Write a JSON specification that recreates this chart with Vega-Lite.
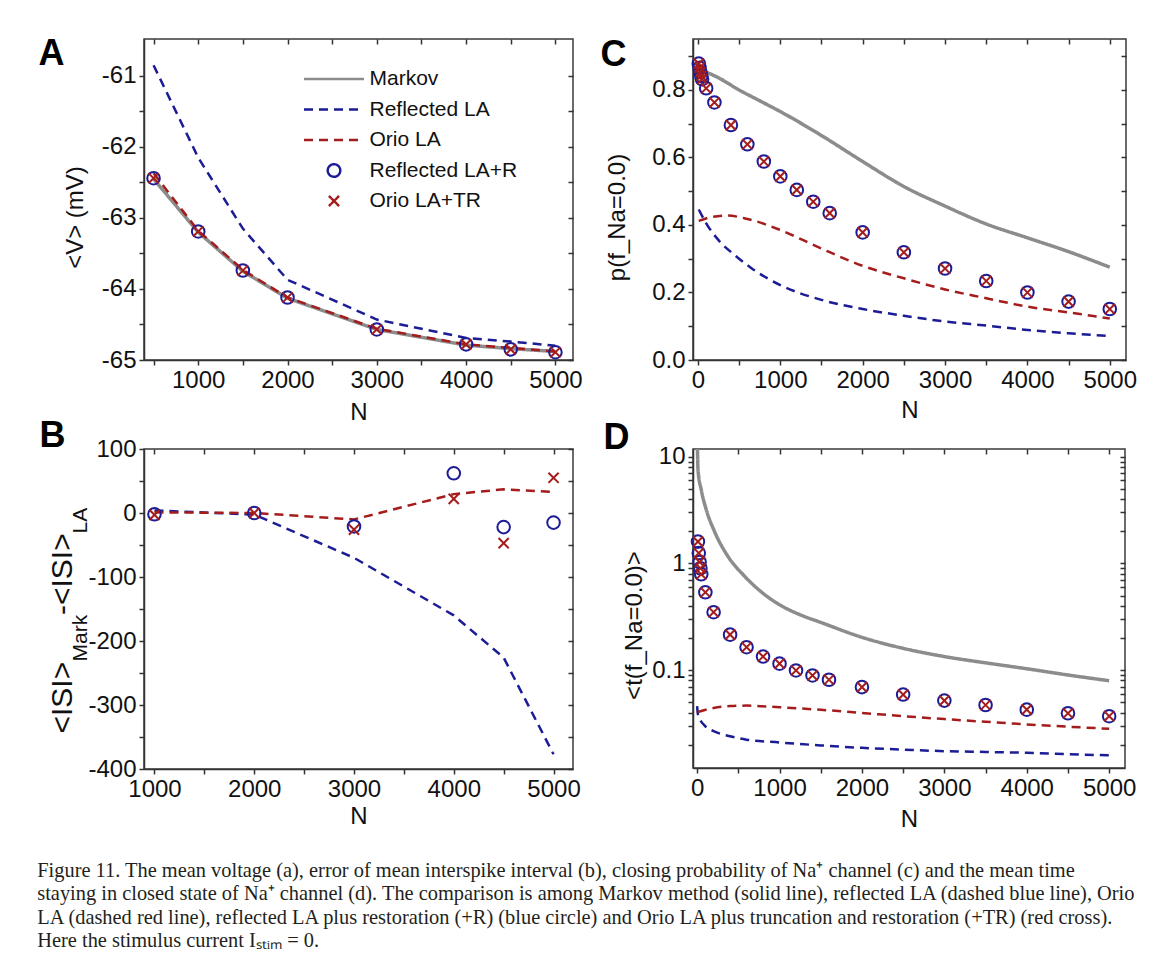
{
  "$schema": "https://vega.github.io/schema/vega-lite/v6.json",
  "padding": {"left": 37, "top": 34, "right": 20, "bottom": 10},
  "background": "white",
  "title": {
    "text": [
      "Figure 11. The mean voltage (a), error of mean interspike interval (b), closing probability of Na⁺ channel (c) and the mean time",
      "staying in closed state of Na⁺ channel (d). The comparison is among Markov method (solid line), reflected LA (dashed blue line), Orio",
      "LA (dashed red line), reflected LA plus restoration (+R) (blue circle) and Orio LA plus truncation and restoration (+TR) (red cross).",
      "Here the stimulus current Iₛₜᵢₘ = 0."
    ],
    "orient": "bottom", "anchor": "start", "frame": "bounds",
    "font": "Liberation Serif", "fontSize": 20.4, "fontWeight": "normal",
    "lineHeight": 23.5, "offset": 29, "color": "#231f20", "baseline": "top"
  },
  "columns": 2,
  "spacing": {"row": 89, "column": 120},
  "bounds": "flush",
  "align": "each",
  "resolve": {
    "scale": {"color": "independent", "shape": "independent", "strokeDash": "independent"},
    "legend": {"color": "independent", "shape": "independent", "strokeDash": "independent"}
  },
  "datasets": {
    "a_lines": [
      {"N": 500, "v": -62.45, "series": "Markov"}, {"N": 1000, "v": -63.2, "series": "Markov"}, {"N": 1500, "v": -63.75, "series": "Markov"}, {"N": 2000, "v": -64.13, "series": "Markov"}, {"N": 3000, "v": -64.57, "series": "Markov"}, {"N": 4000, "v": -64.79, "series": "Markov"}, {"N": 4500, "v": -64.84, "series": "Markov"}, {"N": 5000, "v": -64.88, "series": "Markov"},
      {"N": 500, "v": -60.85, "series": "Reflected LA"}, {"N": 1000, "v": -62.15, "series": "Reflected LA"}, {"N": 1500, "v": -63.15, "series": "Reflected LA"}, {"N": 2000, "v": -63.87, "series": "Reflected LA"}, {"N": 3000, "v": -64.43, "series": "Reflected LA"}, {"N": 4000, "v": -64.69, "series": "Reflected LA"}, {"N": 4500, "v": -64.74, "series": "Reflected LA"}, {"N": 5000, "v": -64.8, "series": "Reflected LA"},
      {"N": 500, "v": -62.37, "series": "Orio LA"}, {"N": 1000, "v": -63.18, "series": "Orio LA"}, {"N": 1500, "v": -63.73, "series": "Orio LA"}, {"N": 2000, "v": -64.12, "series": "Orio LA"}, {"N": 3000, "v": -64.56, "series": "Orio LA"}, {"N": 4000, "v": -64.78, "series": "Orio LA"}, {"N": 4500, "v": -64.83, "series": "Orio LA"}, {"N": 5000, "v": -64.88, "series": "Orio LA"}
    ],
    "a_pts": [
      {"N": 500, "v": -62.44, "series": "Reflected LA+R"}, {"N": 1000, "v": -63.19, "series": "Reflected LA+R"}, {"N": 1500, "v": -63.74, "series": "Reflected LA+R"}, {"N": 2000, "v": -64.12, "series": "Reflected LA+R"}, {"N": 3000, "v": -64.57, "series": "Reflected LA+R"}, {"N": 4000, "v": -64.78, "series": "Reflected LA+R"}, {"N": 4500, "v": -64.85, "series": "Reflected LA+R"}, {"N": 5000, "v": -64.89, "series": "Reflected LA+R"},
      {"N": 500, "v": -62.44, "series": "Orio LA+TR"}, {"N": 1000, "v": -63.19, "series": "Orio LA+TR"}, {"N": 1500, "v": -63.74, "series": "Orio LA+TR"}, {"N": 2000, "v": -64.12, "series": "Orio LA+TR"}, {"N": 3000, "v": -64.57, "series": "Orio LA+TR"}, {"N": 4000, "v": -64.78, "series": "Orio LA+TR"}, {"N": 4500, "v": -64.85, "series": "Orio LA+TR"}, {"N": 5000, "v": -64.89, "series": "Orio LA+TR"}
    ],
    "b_lines": [
      {"N": 1000, "v": 4, "series": "Reflected LA"}, {"N": 2000, "v": -2.5, "series": "Reflected LA"}, {"N": 3000, "v": -70, "series": "Reflected LA"}, {"N": 4000, "v": -160, "series": "Reflected LA"}, {"N": 4500, "v": -226, "series": "Reflected LA"}, {"N": 5000, "v": -377, "series": "Reflected LA"},
      {"N": 1000, "v": 1, "series": "Orio LA"}, {"N": 2000, "v": 0, "series": "Orio LA"}, {"N": 3000, "v": -10, "series": "Orio LA"}, {"N": 4000, "v": 29.5, "series": "Orio LA"}, {"N": 4500, "v": 37, "series": "Orio LA"}, {"N": 5000, "v": 33, "series": "Orio LA"}
    ],
    "b_pts": [
      {"N": 1000, "v": -2, "series": "Reflected LA+R"}, {"N": 2000, "v": 0, "series": "Reflected LA+R"}, {"N": 3000, "v": -21, "series": "Reflected LA+R"}, {"N": 4000, "v": 62, "series": "Reflected LA+R"}, {"N": 4500, "v": -22, "series": "Reflected LA+R"}, {"N": 5000, "v": -15, "series": "Reflected LA+R"},
      {"N": 1000, "v": -3, "series": "Orio LA+TR"}, {"N": 2000, "v": 0, "series": "Orio LA+TR"}, {"N": 3000, "v": -26, "series": "Orio LA+TR"}, {"N": 4000, "v": 22, "series": "Orio LA+TR"}, {"N": 4500, "v": -47, "series": "Orio LA+TR"}, {"N": 5000, "v": 55, "series": "Orio LA+TR"}
    ],
    "c_lines": [
      {"N": 10, "v": 0.862, "series": "Markov"}, {"N": 250, "v": 0.836, "series": "Markov"}, {"N": 500, "v": 0.8, "series": "Markov"}, {"N": 750, "v": 0.768, "series": "Markov"}, {"N": 1000, "v": 0.736, "series": "Markov"}, {"N": 1500, "v": 0.665, "series": "Markov"}, {"N": 2000, "v": 0.588, "series": "Markov"}, {"N": 2500, "v": 0.514, "series": "Markov"}, {"N": 3000, "v": 0.456, "series": "Markov"}, {"N": 3500, "v": 0.403, "series": "Markov"}, {"N": 4000, "v": 0.362, "series": "Markov"}, {"N": 4500, "v": 0.321, "series": "Markov"}, {"N": 5000, "v": 0.275, "series": "Markov"},
      {"N": 10, "v": 0.446, "series": "Reflected LA"}, {"N": 100, "v": 0.405, "series": "Reflected LA"}, {"N": 250, "v": 0.355, "series": "Reflected LA"}, {"N": 450, "v": 0.31, "series": "Reflected LA"}, {"N": 650, "v": 0.272, "series": "Reflected LA"}, {"N": 1000, "v": 0.222, "series": "Reflected LA"}, {"N": 1500, "v": 0.178, "series": "Reflected LA"}, {"N": 2000, "v": 0.151, "series": "Reflected LA"}, {"N": 2500, "v": 0.131, "series": "Reflected LA"}, {"N": 3000, "v": 0.114, "series": "Reflected LA"}, {"N": 3500, "v": 0.102, "series": "Reflected LA"}, {"N": 4000, "v": 0.089, "series": "Reflected LA"}, {"N": 4500, "v": 0.079, "series": "Reflected LA"}, {"N": 5000, "v": 0.071, "series": "Reflected LA"},
      {"N": 10, "v": 0.412, "series": "Orio LA"}, {"N": 150, "v": 0.423, "series": "Orio LA"}, {"N": 350, "v": 0.428, "series": "Orio LA"}, {"N": 600, "v": 0.418, "series": "Orio LA"}, {"N": 1000, "v": 0.385, "series": "Orio LA"}, {"N": 1500, "v": 0.33, "series": "Orio LA"}, {"N": 2000, "v": 0.279, "series": "Orio LA"}, {"N": 2500, "v": 0.242, "series": "Orio LA"}, {"N": 3000, "v": 0.209, "series": "Orio LA"}, {"N": 3500, "v": 0.183, "series": "Orio LA"}, {"N": 4000, "v": 0.158, "series": "Orio LA"}, {"N": 4500, "v": 0.141, "series": "Orio LA"}, {"N": 5000, "v": 0.123, "series": "Orio LA"}
    ],
    "c_pts": [
      {"N": 10, "v": 0.878, "series": "Reflected LA+R"}, {"N": 20, "v": 0.866, "series": "Reflected LA+R"}, {"N": 30, "v": 0.853, "series": "Reflected LA+R"}, {"N": 40, "v": 0.842, "series": "Reflected LA+R"}, {"N": 50, "v": 0.832, "series": "Reflected LA+R"}, {"N": 100, "v": 0.805, "series": "Reflected LA+R"}, {"N": 200, "v": 0.763, "series": "Reflected LA+R"}, {"N": 400, "v": 0.696, "series": "Reflected LA+R"}, {"N": 600, "v": 0.639, "series": "Reflected LA+R"}, {"N": 800, "v": 0.588, "series": "Reflected LA+R"}, {"N": 1000, "v": 0.544, "series": "Reflected LA+R"}, {"N": 1200, "v": 0.504, "series": "Reflected LA+R"}, {"N": 1400, "v": 0.469, "series": "Reflected LA+R"}, {"N": 1600, "v": 0.435, "series": "Reflected LA+R"}, {"N": 2000, "v": 0.378, "series": "Reflected LA+R"}, {"N": 2500, "v": 0.319, "series": "Reflected LA+R"}, {"N": 3000, "v": 0.271, "series": "Reflected LA+R"}, {"N": 3500, "v": 0.234, "series": "Reflected LA+R"}, {"N": 4000, "v": 0.2, "series": "Reflected LA+R"}, {"N": 4500, "v": 0.173, "series": "Reflected LA+R"}, {"N": 5000, "v": 0.151, "series": "Reflected LA+R"},
      {"N": 10, "v": 0.878, "series": "Orio LA+TR"}, {"N": 20, "v": 0.866, "series": "Orio LA+TR"}, {"N": 30, "v": 0.853, "series": "Orio LA+TR"}, {"N": 40, "v": 0.842, "series": "Orio LA+TR"}, {"N": 50, "v": 0.832, "series": "Orio LA+TR"}, {"N": 100, "v": 0.805, "series": "Orio LA+TR"}, {"N": 200, "v": 0.763, "series": "Orio LA+TR"}, {"N": 400, "v": 0.696, "series": "Orio LA+TR"}, {"N": 600, "v": 0.639, "series": "Orio LA+TR"}, {"N": 800, "v": 0.588, "series": "Orio LA+TR"}, {"N": 1000, "v": 0.544, "series": "Orio LA+TR"}, {"N": 1200, "v": 0.504, "series": "Orio LA+TR"}, {"N": 1400, "v": 0.469, "series": "Orio LA+TR"}, {"N": 1600, "v": 0.435, "series": "Orio LA+TR"}, {"N": 2000, "v": 0.378, "series": "Orio LA+TR"}, {"N": 2500, "v": 0.319, "series": "Orio LA+TR"}, {"N": 3000, "v": 0.271, "series": "Orio LA+TR"}, {"N": 3500, "v": 0.234, "series": "Orio LA+TR"}, {"N": 4000, "v": 0.2, "series": "Orio LA+TR"}, {"N": 4500, "v": 0.173, "series": "Orio LA+TR"}, {"N": 5000, "v": 0.151, "series": "Orio LA+TR"}
    ],
    "d_lines": [
      {"N": 3, "v": 13, "series": "Markov"}, {"N": 11, "v": 7.5, "series": "Markov"}, {"N": 50, "v": 4.9, "series": "Markov"}, {"N": 110, "v": 3.2, "series": "Markov"}, {"N": 210, "v": 2.0, "series": "Markov"}, {"N": 375, "v": 1.16, "series": "Markov"}, {"N": 575, "v": 0.76, "series": "Markov"}, {"N": 820, "v": 0.51, "series": "Markov"}, {"N": 1000, "v": 0.41, "series": "Markov"}, {"N": 1250, "v": 0.33, "series": "Markov"}, {"N": 1500, "v": 0.28, "series": "Markov"}, {"N": 2000, "v": 0.203, "series": "Markov"}, {"N": 2500, "v": 0.16, "series": "Markov"}, {"N": 3000, "v": 0.134, "series": "Markov"}, {"N": 3500, "v": 0.117, "series": "Markov"}, {"N": 4000, "v": 0.103, "series": "Markov"}, {"N": 4500, "v": 0.09, "series": "Markov"}, {"N": 5000, "v": 0.0795, "series": "Markov"},
      {"N": 0, "v": 0.046, "series": "Reflected LA"}, {"N": 10, "v": 0.0385, "series": "Reflected LA"}, {"N": 100, "v": 0.0297, "series": "Reflected LA"}, {"N": 200, "v": 0.0268, "series": "Reflected LA"}, {"N": 400, "v": 0.024, "series": "Reflected LA"}, {"N": 600, "v": 0.0223, "series": "Reflected LA"}, {"N": 1000, "v": 0.021, "series": "Reflected LA"}, {"N": 1500, "v": 0.0197, "series": "Reflected LA"}, {"N": 2000, "v": 0.0187, "series": "Reflected LA"}, {"N": 2500, "v": 0.018, "series": "Reflected LA"}, {"N": 3000, "v": 0.0174, "series": "Reflected LA"}, {"N": 3500, "v": 0.0171, "series": "Reflected LA"}, {"N": 4000, "v": 0.0168, "series": "Reflected LA"}, {"N": 4500, "v": 0.0163, "series": "Reflected LA"}, {"N": 5000, "v": 0.0159, "series": "Reflected LA"},
      {"N": 10, "v": 0.0405, "series": "Orio LA"}, {"N": 200, "v": 0.0442, "series": "Orio LA"}, {"N": 400, "v": 0.046, "series": "Orio LA"}, {"N": 600, "v": 0.0465, "series": "Orio LA"}, {"N": 1000, "v": 0.0449, "series": "Orio LA"}, {"N": 1500, "v": 0.0425, "series": "Orio LA"}, {"N": 2000, "v": 0.0397, "series": "Orio LA"}, {"N": 2500, "v": 0.037, "series": "Orio LA"}, {"N": 3000, "v": 0.0348, "series": "Orio LA"}, {"N": 3500, "v": 0.0328, "series": "Orio LA"}, {"N": 4000, "v": 0.031, "series": "Orio LA"}, {"N": 4500, "v": 0.0295, "series": "Orio LA"}, {"N": 5000, "v": 0.0282, "series": "Orio LA"}
    ],
    "d_pts": [
      {"N": 10, "v": 1.6, "series": "Reflected LA+R"}, {"N": 20, "v": 1.25, "series": "Reflected LA+R"}, {"N": 30, "v": 1.03, "series": "Reflected LA+R"}, {"N": 40, "v": 0.9, "series": "Reflected LA+R"}, {"N": 50, "v": 0.79, "series": "Reflected LA+R"}, {"N": 100, "v": 0.536, "series": "Reflected LA+R"}, {"N": 200, "v": 0.349, "series": "Reflected LA+R"}, {"N": 400, "v": 0.215, "series": "Reflected LA+R"}, {"N": 600, "v": 0.164, "series": "Reflected LA+R"}, {"N": 800, "v": 0.134, "series": "Reflected LA+R"}, {"N": 1000, "v": 0.115, "series": "Reflected LA+R"}, {"N": 1200, "v": 0.0993, "series": "Reflected LA+R"}, {"N": 1400, "v": 0.0891, "series": "Reflected LA+R"}, {"N": 1600, "v": 0.0812, "series": "Reflected LA+R"}, {"N": 2000, "v": 0.0693, "series": "Reflected LA+R"}, {"N": 2500, "v": 0.059, "series": "Reflected LA+R"}, {"N": 3000, "v": 0.0518, "series": "Reflected LA+R"}, {"N": 3500, "v": 0.0471, "series": "Reflected LA+R"}, {"N": 4000, "v": 0.0426, "series": "Reflected LA+R"}, {"N": 4500, "v": 0.0394, "series": "Reflected LA+R"}, {"N": 5000, "v": 0.037, "series": "Reflected LA+R"},
      {"N": 10, "v": 1.6, "series": "Orio LA+TR"}, {"N": 20, "v": 1.25, "series": "Orio LA+TR"}, {"N": 30, "v": 1.03, "series": "Orio LA+TR"}, {"N": 40, "v": 0.9, "series": "Orio LA+TR"}, {"N": 50, "v": 0.79, "series": "Orio LA+TR"}, {"N": 100, "v": 0.536, "series": "Orio LA+TR"}, {"N": 200, "v": 0.349, "series": "Orio LA+TR"}, {"N": 400, "v": 0.215, "series": "Orio LA+TR"}, {"N": 600, "v": 0.164, "series": "Orio LA+TR"}, {"N": 800, "v": 0.134, "series": "Orio LA+TR"}, {"N": 1000, "v": 0.115, "series": "Orio LA+TR"}, {"N": 1200, "v": 0.0993, "series": "Orio LA+TR"}, {"N": 1400, "v": 0.0891, "series": "Orio LA+TR"}, {"N": 1600, "v": 0.0812, "series": "Orio LA+TR"}, {"N": 2000, "v": 0.0693, "series": "Orio LA+TR"}, {"N": 2500, "v": 0.059, "series": "Orio LA+TR"}, {"N": 3000, "v": 0.0518, "series": "Orio LA+TR"}, {"N": 3500, "v": 0.0471, "series": "Orio LA+TR"}, {"N": 4000, "v": 0.0426, "series": "Orio LA+TR"}, {"N": 4500, "v": 0.0394, "series": "Orio LA+TR"}, {"N": 5000, "v": 0.037, "series": "Orio LA+TR"}
    ]
  },
  "concat": [
    {
      "width": 429, "height": 321,
      "resolve": {"axis": {"x": "independent", "y": "independent"}},
      "layer": [
        {
          "data": {"name": "a_lines"},
          "transform": [{"filter": "datum.series === 'Markov'"}],
          "mark": {"type": "line", "strokeWidth": 3.5, "clip": true},
          "encoding": {
            "x": {"field": "N", "type": "quantitative", "scale": {"domain": [393, 5197], "nice": false, "zero": false},
              "axis": {"orient": "bottom", "values": [500, 1000, 1500, 2000, 2500, 3000, 3500, 4000, 4500, 5000], "labelExpr": "datum.value % 1000 === 0 ? '' + datum.value : ''", "title": "N", "titleY": 59, "titleBaseline": "alphabetic"}},
            "y": {"field": "v", "type": "quantitative", "scale": {"domain": [-65, -60.48], "nice": false, "zero": false},
              "axis": {"orient": "left", "values": [-65, -64.5, -64, -63.5, -63, -62.5, -62, -61.5, -61], "labelExpr": "datum.value % 1 === 0 ? '' + datum.value : ''", "title": "<V> (mV)", "titleAngle": -90, "titleAlign": "center", "titleBaseline": "alphabetic", "titleX": -62, "titleY": 178}},
            "color": {"field": "series", "type": "nominal",
              "scale": {"domain": ["Markov", "Reflected LA", "Orio LA", "Reflected LA+R", "Orio LA+TR"], "range": ["#8c8c8c", "#1c1c96", "#a51c1c", "#1c1c96", "#a51c1c"]},
              "legend": {"title": null, "orient": "none", "legendX": 158.5, "legendY": 25, "clipHeight": 30, "rowPadding": 0.5, "labelFontSize": 21, "labelFont": "Liberation Sans", "labelColor": "#111", "labelOffset": 4, "symbolStrokeWidth": 2.4, "symbolSize": 3600, "padding": 0, "symbolFillColor": "transparent", "labelLimit": 400}},
            "strokeDash": {"field": "series", "type": "nominal",
              "scale": {"domain": ["Markov", "Reflected LA", "Orio LA", "Reflected LA+R", "Orio LA+TR"], "range": [[1, 0], [9, 6], [9, 6], [1, 0], [1, 0]]},
              "legend": {"title": null, "orient": "none", "legendX": 158.5, "legendY": 25, "clipHeight": 30, "rowPadding": 0.5, "labelFontSize": 21, "labelFont": "Liberation Sans", "labelColor": "#111", "labelOffset": 4, "symbolStrokeWidth": 2.4, "symbolSize": 3600, "padding": 0, "symbolFillColor": "transparent", "labelLimit": 400}}
          }
        },
        {
          "data": {"name": "a_lines"},
          "transform": [{"filter": "datum.series !== 'Markov'"}],
          "mark": {"type": "line", "strokeWidth": 2.5, "clip": true},
          "encoding": {
            "x": {"field": "N", "type": "quantitative", "axis": null},
            "y": {"field": "v", "type": "quantitative", "axis": null},
            "color": {"field": "series", "type": "nominal",
              "scale": {"domain": ["Markov", "Reflected LA", "Orio LA", "Reflected LA+R", "Orio LA+TR"], "range": ["#8c8c8c", "#1c1c96", "#a51c1c", "#1c1c96", "#a51c1c"]}},
            "strokeDash": {"field": "series", "type": "nominal",
              "scale": {"domain": ["Markov", "Reflected LA", "Orio LA", "Reflected LA+R", "Orio LA+TR"], "range": [[1, 0], [9, 6], [9, 6], [1, 0], [1, 0]]}}
          }
        },
        {
          "data": {"name": "a_pts"},
          "mark": {"type": "point", "filled": false, "size": 3600, "strokeWidth": 2, "opacity": 1},
          "encoding": {
            "x": {"field": "N", "type": "quantitative",
              "axis": {"orient": "top", "labels": false, "domain": false, "tickSize": -5, "values": [500, 1000, 1500, 2000, 2500, 3000, 3500, 4000, 4500, 5000],
                "title": "A", "titleX": -106, "titleY": 25, "titleAngle": 0, "titleAlign": "left", "titleBaseline": "alphabetic", "titleFontSize": 36, "titleFontWeight": "bold", "titleColor": "#000"}},
            "y": {"field": "v", "type": "quantitative",
              "axis": {"orient": "right", "labels": false, "domain": false, "title": null, "tickSize": -5, "values": [-65, -64.5, -64, -63.5, -63, -62.5, -62, -61.5, -61]}},
            "color": {"field": "series", "type": "nominal",
              "scale": {"domain": ["Markov", "Reflected LA", "Orio LA", "Reflected LA+R", "Orio LA+TR"], "range": ["#8c8c8c", "#1c1c96", "#a51c1c", "#1c1c96", "#a51c1c"]}},
            "shape": {"field": "series", "type": "nominal",
              "scale": {"domain": ["Markov", "Reflected LA", "Orio LA", "Reflected LA+R", "Orio LA+TR"], "range": ["stroke", "stroke", "stroke", "M0.21,0A0.21,0.21,0,1,1,-0.21,0A0.21,0.21,0,1,1,0.21,0Z", "M-0.17,-0.17L0.17,0.17M-0.17,0.17L0.17,-0.17"]},
              "legend": {"title": null, "orient": "none", "legendX": 158.5, "legendY": 25, "clipHeight": 30, "rowPadding": 0.5, "labelFontSize": 21, "labelFont": "Liberation Sans", "labelColor": "#111", "labelOffset": 4, "symbolStrokeWidth": 2.4, "symbolSize": 3600, "padding": 0, "symbolFillColor": "transparent", "labelLimit": 400}}
          }
        }
      ]
    },
    {
      "width": 433, "height": 321,
      "resolve": {"axis": {"x": "independent", "y": "independent"}},
      "layer": [
        {
          "data": {"name": "c_lines"},
          "transform": [{"filter": "datum.series === 'Markov'"}],
          "mark": {"type": "line", "strokeWidth": 3.5, "clip": true, "interpolate": "monotone"},
          "encoding": {
            "x": {"field": "N", "type": "quantitative", "scale": {"domain": [-60, 5197], "nice": false, "zero": false},
              "axis": {"orient": "bottom", "values": [0, 500, 1000, 1500, 2000, 2500, 3000, 3500, 4000, 4500, 5000], "labelExpr": "datum.value % 1000 === 0 ? '' + datum.value : ''", "title": "N", "titleY": 57, "titleBaseline": "alphabetic"}},
            "y": {"field": "v", "type": "quantitative", "scale": {"domain": [0, 0.951], "nice": false, "zero": false},
              "axis": {"orient": "left", "values": [0, 0.1, 0.2, 0.3, 0.4, 0.5, 0.6, 0.7, 0.8, 0.9], "labelExpr": "round(datum.value * 10) % 2 === 0 ? format(datum.value, '.1f') : ''", "title": "p(f_Na=0.0)", "titleAngle": -90, "titleAlign": "center", "titleBaseline": "alphabetic", "titleX": -69, "titleY": 178}},
            "color": {"field": "series", "type": "nominal", "legend": null,
              "scale": {"domain": ["Markov", "Reflected LA", "Orio LA", "Reflected LA+R", "Orio LA+TR"], "range": ["#8c8c8c", "#1c1c96", "#a51c1c", "#1c1c96", "#a51c1c"]}},
            "strokeDash": {"field": "series", "type": "nominal", "legend": null,
              "scale": {"domain": ["Markov", "Reflected LA", "Orio LA", "Reflected LA+R", "Orio LA+TR"], "range": [[1, 0], [9, 6], [9, 6], [1, 0], [1, 0]]}}
          }
        },
        {
          "data": {"name": "c_lines"},
          "transform": [{"filter": "datum.series !== 'Markov'"}],
          "mark": {"type": "line", "strokeWidth": 2.5, "clip": true, "interpolate": "monotone"},
          "encoding": {
            "x": {"field": "N", "type": "quantitative", "axis": null},
            "y": {"field": "v", "type": "quantitative", "axis": null},
            "color": {"field": "series", "type": "nominal", "legend": null},
            "strokeDash": {"field": "series", "type": "nominal", "legend": null}
          }
        },
        {
          "data": {"name": "c_pts"},
          "mark": {"type": "point", "filled": false, "size": 3600, "strokeWidth": 2, "opacity": 1},
          "encoding": {
            "x": {"field": "N", "type": "quantitative",
              "axis": {"orient": "top", "labels": false, "domain": false, "tickSize": -5, "values": [0, 500, 1000, 1500, 2000, 2500, 3000, 3500, 4000, 4500, 5000],
                "title": "C", "titleX": -93, "titleY": 26, "titleAngle": 0, "titleAlign": "left", "titleBaseline": "alphabetic", "titleFontSize": 36, "titleFontWeight": "bold", "titleColor": "#000"}},
            "y": {"field": "v", "type": "quantitative",
              "axis": {"orient": "right", "labels": false, "domain": false, "title": null, "tickSize": -5, "values": [0, 0.1, 0.2, 0.3, 0.4, 0.5, 0.6, 0.7, 0.8, 0.9]}},
            "color": {"field": "series", "type": "nominal", "legend": null},
            "shape": {"field": "series", "type": "nominal", "legend": null,
              "scale": {"domain": ["Markov", "Reflected LA", "Orio LA", "Reflected LA+R", "Orio LA+TR"], "range": ["stroke", "stroke", "stroke", "M0.21,0A0.21,0.21,0,1,1,-0.21,0A0.21,0.21,0,1,1,0.21,0Z", "M-0.17,-0.17L0.17,0.17M-0.17,0.17L0.17,-0.17"]}}
          }
        }
      ]
    },
    {
      "width": 429, "height": 320,
      "resolve": {"axis": {"x": "independent", "y": "independent"}},
      "layer": [
        {
          "data": {"name": "b_lines"},
          "transform": [{"filter": "datum.series === 'Reflected LA'"}],
          "mark": {"type": "line", "strokeWidth": 2.5, "strokeDash": [9, 6], "color": "#1c1c96", "clip": true},
          "encoding": {
            "x": {"field": "N", "type": "quantitative", "scale": {"domain": [895, 5195], "nice": false, "zero": false},
              "axis": {"orient": "bottom", "values": [1000, 1500, 2000, 2500, 3000, 3500, 4000, 4500, 5000], "labelExpr": "datum.value % 1000 === 0 ? '' + datum.value : ''", "title": "N", "titleY": 54, "titleBaseline": "alphabetic"}},
            "y": {"field": "v", "type": "quantitative", "scale": {"domain": [-400, 100], "nice": false, "zero": false},
              "axis": {"orient": "left", "values": [-400, -350, -300, -250, -200, -150, -100, -50, 0, 50, 100], "labelExpr": "datum.value % 100 === 0 ? '' + datum.value : ''", "title": "<ISI>", "titleFontSize": 30, "titleAngle": -90, "titleAlign": "left", "titleBaseline": "alphabetic", "titleX": -73, "titleY": 284}}
          }
        },
        {
          "data": {"name": "b_lines"},
          "transform": [{"filter": "datum.series === 'Orio LA'"}],
          "mark": {"type": "line", "strokeWidth": 2.5, "strokeDash": [9, 6], "color": "#a51c1c", "clip": true},
          "encoding": {
            "x": {"field": "N", "type": "quantitative",
              "axis": {"orient": "top", "labels": false, "domain": false, "tickSize": -5, "values": [1000, 1500, 2000, 2500, 3000, 3500, 4000, 4500, 5000], "title": "Mark", "titleFontSize": 21, "titleAngle": -90, "titleAlign": "left", "titleBaseline": "alphabetic", "titleX": -58, "titleY": 212}},
            "y": {"field": "v", "type": "quantitative",
              "axis": {"orient": "right", "labels": false, "domain": false, "tickSize": -5, "values": [-400, -350, -300, -250, -200, -150, -100, -50, 0, 50, 100], "title": "-<ISI>", "titleFontSize": 30, "titleAngle": -90, "titleAlign": "left", "titleBaseline": "alphabetic", "titleX": -502, "titleY": 165.5}}
          }
        },
        {
          "data": {"name": "b_pts"},
          "mark": {"type": "point", "filled": false, "size": 3600, "strokeWidth": 2, "opacity": 1},
          "encoding": {
            "x": {"field": "N", "type": "quantitative",
              "axis": {"orient": "top", "labels": false, "ticks": false, "domain": false, "title": "LA", "titleFontSize": 21, "titleAngle": -90, "titleAlign": "left", "titleBaseline": "alphabetic", "titleX": -58, "titleY": 84}},
            "y": {"field": "v", "type": "quantitative",
              "axis": {"orient": "right", "labels": false, "ticks": false, "domain": false, "title": "B", "titleX": -534, "titleY": -3, "titleAngle": 0, "titleAlign": "left", "titleBaseline": "alphabetic", "titleFontSize": 36, "titleFontWeight": "bold", "titleColor": "#000"}},
            "color": {"field": "series", "type": "nominal", "legend": null,
              "scale": {"domain": ["Markov", "Reflected LA", "Orio LA", "Reflected LA+R", "Orio LA+TR"], "range": ["#8c8c8c", "#1c1c96", "#a51c1c", "#1c1c96", "#a51c1c"]}},
            "shape": {"field": "series", "type": "nominal", "legend": null,
              "scale": {"domain": ["Markov", "Reflected LA", "Orio LA", "Reflected LA+R", "Orio LA+TR"], "range": ["stroke", "stroke", "stroke", "M0.21,0A0.21,0.21,0,1,1,-0.21,0A0.21,0.21,0,1,1,0.21,0Z", "M-0.17,-0.17L0.17,0.17M-0.17,0.17L0.17,-0.17"]}}
          }
        }
      ]
    },
    {
      "width": 432, "height": 319,
      "resolve": {"axis": {"x": "independent", "y": "independent"}},
      "layer": [
        {
          "data": {"name": "d_lines"},
          "transform": [{"filter": "datum.series === 'Markov'"}],
          "mark": {"type": "line", "strokeWidth": 3.5, "clip": true, "interpolate": "monotone"},
          "encoding": {
            "x": {"field": "N", "type": "quantitative", "scale": {"domain": [-50, 5192], "nice": false, "zero": false},
              "axis": {"orient": "bottom", "values": [0, 500, 1000, 1500, 2000, 2500, 3000, 3500, 4000, 4500, 5000], "labelExpr": "datum.value % 1000 === 0 ? '' + datum.value : ''", "title": "N", "titleY": 58, "titleBaseline": "alphabetic"}},
            "y": {"field": "v", "type": "quantitative", "scale": {"type": "log", "domain": [0.0121, 11.8], "nice": false},
              "axis": {"orient": "left", "values": [0.02, 0.03, 0.04, 0.05, 0.06, 0.07, 0.08, 0.09, 0.1, 0.2, 0.3, 0.4, 0.5, 0.6, 0.7, 0.8, 0.9, 1, 2, 3, 4, 5, 6, 7, 8, 9, 10], "labelExpr": "indexof([0.1, 1, 10], datum.value) >= 0 ? '' + datum.value : ''", "title": "<t(f_Na=0.0)>", "titleAngle": -90, "titleAlign": "center", "titleBaseline": "alphabetic", "titleX": -52, "titleY": 176}},
            "color": {"field": "series", "type": "nominal", "legend": null,
              "scale": {"domain": ["Markov", "Reflected LA", "Orio LA", "Reflected LA+R", "Orio LA+TR"], "range": ["#8c8c8c", "#1c1c96", "#a51c1c", "#1c1c96", "#a51c1c"]}},
            "strokeDash": {"field": "series", "type": "nominal", "legend": null,
              "scale": {"domain": ["Markov", "Reflected LA", "Orio LA", "Reflected LA+R", "Orio LA+TR"], "range": [[1, 0], [9, 6], [9, 6], [1, 0], [1, 0]]}}
          }
        },
        {
          "data": {"name": "d_lines"},
          "transform": [{"filter": "datum.series !== 'Markov'"}],
          "mark": {"type": "line", "strokeWidth": 2.5, "clip": true, "interpolate": "monotone"},
          "encoding": {
            "x": {"field": "N", "type": "quantitative", "axis": null},
            "y": {"field": "v", "type": "quantitative", "axis": null},
            "color": {"field": "series", "type": "nominal", "legend": null},
            "strokeDash": {"field": "series", "type": "nominal", "legend": null}
          }
        },
        {
          "data": {"name": "d_pts"},
          "mark": {"type": "point", "filled": false, "size": 3600, "strokeWidth": 2, "opacity": 1},
          "encoding": {
            "x": {"field": "N", "type": "quantitative",
              "axis": {"orient": "top", "labels": false, "domain": false, "tickSize": -5, "values": [0, 500, 1000, 1500, 2000, 2500, 3000, 3500, 4000, 4500, 5000],
                "title": "D", "titleX": -90, "titleY": -1, "titleAngle": 0, "titleAlign": "left", "titleBaseline": "alphabetic", "titleFontSize": 36, "titleFontWeight": "bold", "titleColor": "#000"}},
            "y": {"field": "v", "type": "quantitative",
              "axis": {"orient": "right", "labels": false, "domain": false, "title": null, "tickSize": -5, "values": [0.02, 0.03, 0.04, 0.05, 0.06, 0.07, 0.08, 0.09, 0.1, 0.2, 0.3, 0.4, 0.5, 0.6, 0.7, 0.8, 0.9, 1, 2, 3, 4, 5, 6, 7, 8, 9, 10]}},
            "color": {"field": "series", "type": "nominal", "legend": null},
            "shape": {"field": "series", "type": "nominal", "legend": null,
              "scale": {"domain": ["Markov", "Reflected LA", "Orio LA", "Reflected LA+R", "Orio LA+TR"], "range": ["stroke", "stroke", "stroke", "M0.21,0A0.21,0.21,0,1,1,-0.21,0A0.21,0.21,0,1,1,0.21,0Z", "M-0.17,-0.17L0.17,0.17M-0.17,0.17L0.17,-0.17"]}}
          }
        }
      ]
    }
  ],
  "config": {
    "font": "Liberation Sans",
    "view": {"stroke": "#3a3a3a", "strokeWidth": 1.5},
    "axis": {
      "labelFont": "Liberation Sans", "labelFontSize": 24, "labelColor": "#111",
      "titleFont": "Liberation Sans", "titleFontSize": 24, "titleFontWeight": "normal", "titleColor": "#111",
      "domainColor": "#333", "domainWidth": 1.5, "tickColor": "#333", "tickWidth": 1.5, "tickSize": 5,
      "grid": false, "labelPadding": 3, "labelFlush": false, "labelOverlap": false
    }
  }
}
